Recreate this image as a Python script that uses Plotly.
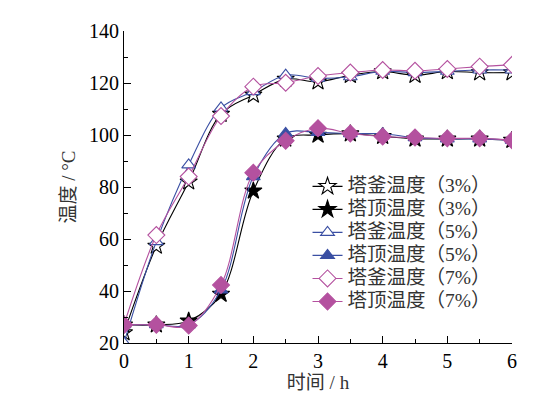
import plotly.graph_objects as go

t = [0, 0.5, 1, 1.5, 2, 2.5, 3, 3.5, 4, 4.5, 5, 5.5, 6]

kettle_3 = [24, 57.3, 82, 108, 115.4, 121.5, 120.5, 123, 124.4, 123, 124.4, 124, 124]
top_3 = [27, 27, 28.5, 38.8, 78.5, 98.5, 100, 100.5, 99.5, 98.5, 98.5, 98.5, 98]
kettle_5 = [20, 59, 88.5, 110.4, 116.7, 123, 121.8, 122.4, 124.5, 124, 124.5, 125, 125]
top_5 = [27, 27, 27, 40.4, 84, 100.6, 101, 100.5, 100.5, 99, 98.5, 98.5, 98]
kettle_7 = [27, 61.5, 84, 107.3, 118.6, 120.1, 122.7, 124, 125, 124.7, 125.4, 126.3, 127]
top_7 = [27, 27, 26.7, 42.3, 85.5, 97.8, 102.6, 100.6, 99.4, 99, 98.7, 98.7, 98]

names = ["塔釜温度（3%）", "塔顶温度（3%）", "塔釜温度（5%）",
         "塔顶温度（5%）", "塔釜温度（7%）", "塔顶温度（7%）"]

BLACK = "#000000"
BLUE = "#3A4FA3"
PINK = "#B4519F"

# (values, colour, symbol, size, filled)
series = [
    (kettle_3, BLACK, "star", 13, False),
    (top_3, BLACK, "star", 13, True),
    (kettle_5, BLUE, "triangle-up", 12, False),
    (top_5, BLUE, "triangle-up", 12, True),
    (kettle_7, PINK, "diamond", 13, False),
    (top_7, PINK, "diamond", 13, True),
]

fig = go.Figure()
for (vals, col, sym, sz, filled), nm in zip(series, names):
    fig.add_trace(go.Scatter(
        x=t, y=vals, name='<span style="font-size:19.5px">' + nm + '</span>',
        mode="lines+markers",
        line=dict(color=col, width=1.1, shape="spline", smoothing=1),
        marker=dict(symbol=sym, size=sz, color=col if filled else "white",
                    line=dict(color=col, width=1.1)),
    ))

serif = "Times New Roman, Liberation Serif, Noto Sans CJK SC, serif"

fig.update_layout(
    width=550, height=398,
    margin=dict(l=116, r=46, t=23, b=63),
    paper_bgcolor="white", plot_bgcolor="white",
    font=dict(family=serif, size=20, color="#000000"),
    showlegend=True,
    legend=dict(x=0.473, y=0.555, xanchor="left", yanchor="top",
                bgcolor="rgba(0,0,0,0)", font=dict(family=serif, size=15.4, color="#333333"),
                tracegroupgap=0, itemwidth=30),
    xaxis=dict(range=[0, 6], dtick=1, tick0=0, showline=True, linecolor="black",
               linewidth=1, ticks="inside", ticklen=7, tickcolor="black",
               showgrid=False, zeroline=False, mirror=False, automargin=False,
               minor=dict(dtick=0.5, ticks="inside", ticklen=4, tickcolor="black", showgrid=False),
               title=dict(text="时间 / h", font=dict(size=19, color="#333333"), standoff=2)),
    yaxis=dict(range=[20, 140], dtick=20, tick0=20, showline=True, linecolor="black",
               linewidth=1, ticks="inside", ticklen=7, tickcolor="black",
               showgrid=False, zeroline=False, mirror=False, automargin=False,
               minor=dict(dtick=10, ticks="inside", ticklen=4, tickcolor="black", showgrid=False),
               title=dict(text="温度 / °C", font=dict(size=19, color="#333333"), standoff=8)),
)

fig.write_html("out.html")
